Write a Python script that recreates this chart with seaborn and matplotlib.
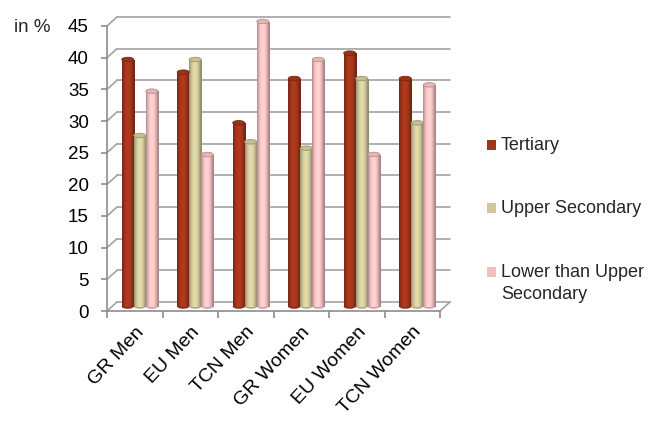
import numpy as np
import matplotlib
matplotlib.use("Agg")
import matplotlib.pyplot as plt
import matplotlib.transforms as mtransforms
from matplotlib.patches import Ellipse, Rectangle
from matplotlib.lines import Line2D
from matplotlib.colors import to_rgb
import pandas as pd
import seaborn as sns

# ---- data -------------------------------------------------------------
groups = ["GR Men", "EU Men", "TCN Men", "GR Women", "EU Women", "TCN Women"]
levels = ["Tertiary", "Upper Secondary", "Lower than Upper\nSecondary"]
tertiary = [39, 37, 29, 36, 40, 36]
upper_secondary = [27, 39, 26, 25, 36, 29]
lower_secondary = [34, 24, 45, 39, 24, 35]
y_ticks = [0, 5, 10, 15, 20, 25, 30, 35, 40, 45]
y_unit = "in %"

colors = ["#A0351B", "#CFC89C", "#F2C0C0"]
grid_color = "#A3A3A3"
axis_color = "#8C8C8C"

df = pd.DataFrame({
    "group": groups * 3,
    "level": [levels[0]] * 6 + [levels[1]] * 6 + [levels[2]] * 6,
    "value": tertiary + upper_secondary + lower_secondary,
})

# ---- figure -----------------------------------------------------------
sns.set_style("white")
plt.rcParams["font.family"] = ["Liberation Sans", "DejaVu Sans"]

W, H = 651, 421
DPI = 100
fig = plt.figure(figsize=(W / DPI, H / DPI), dpi=DPI)

# front plane of the chart box (pixels from top-left)
L, R, T, B = 107, 440, 26, 311
ax = fig.add_axes([L / W, 1 - B / H, (R - L) / W, (B - T) / H])
ax.patch.set_alpha(0)

sns.barplot(data=df, x="group", y="value", hue="level", order=groups,
            hue_order=levels, palette=colors, width=0.65, saturation=1,
            legend=False, linewidth=0, ax=ax)

ax.set_xlim(-0.5, len(groups) - 0.5)
ax.set_ylim(y_ticks[0], y_ticks[-1])

# depth offsets: back wall and the plane in which the bars stand
DX, DY = 10, 9
back = mtransforms.ScaledTranslation(DX / DPI, DY / DPI, fig.dpi_scale_trans)
mid = mtransforms.ScaledTranslation(DX / 2 / DPI, DY / 2 / DPI, fig.dpi_scale_trans)

# back wall gridlines and the diagonal floor/wall connectors
for v in y_ticks:
    ax.add_line(Line2D([0, 1], [v, v], transform=ax.get_yaxis_transform() + back,
                       color=grid_color, lw=1.2, clip_on=False, zorder=0.5))
fig.canvas.draw()
for v in y_ticks:
    x0, y0 = ax.transData.transform((-0.5, v))
    ax.add_line(Line2D([x0, x0 + DX], [y0, y0 + DY],
                       transform=mtransforms.IdentityTransform(),
                       color=grid_color, lw=1.2, clip_on=False, zorder=0.5))
x0, y0 = ax.transData.transform((len(groups) - 0.5, 0))
ax.add_line(Line2D([x0, x0 + DX], [y0, y0 + DY],
                   transform=mtransforms.IdentityTransform(),
                   color=grid_color, lw=1.2, clip_on=False, zorder=0.5))

# cylinder look for each bar: shaded body plus an elliptical top
px_per_unit = (B - T) / (y_ticks[-1] - y_ticks[0])
cap_h = 4.5 / px_per_unit
t = np.linspace(0, 1, 64)
shade = 0.70 + 0.40 * np.sin(np.pi * np.clip(t * 1.1, 0, 1)) ** 0.8
for container, col in zip(ax.containers, colors):
    base = np.array(to_rgb(col))
    body = np.clip(base[None, :] * shade[:, None], 0, 1)
    for bar in container:
        bx, bw, bh = bar.get_x(), bar.get_width(), bar.get_height()
        bar.set_transform(ax.transData + mid)
        bar.set_clip_on(False)
        bar.set_zorder(2)
        im = ax.imshow(body[None, :, :], extent=(bx, bx + bw, 0, bh),
                       aspect="auto", interpolation="bilinear", zorder=2.1)
        im.set_transform(ax.transData + mid)
        im.set_clip_on(False)
        ax.add_patch(Ellipse((bx + bw / 2, 0), bw, cap_h,
                             facecolor=np.clip(base * 0.85, 0, 1), edgecolor="none",
                             transform=ax.transData + mid, clip_on=False, zorder=2.05))
        ax.add_patch(Ellipse((bx + bw / 2, bh), bw, cap_h,
                             facecolor=np.clip(base * 0.95, 0, 1),
                             edgecolor=np.clip(base * 0.75, 0, 1), lw=0.6,
                             transform=ax.transData + mid, clip_on=False, zorder=2.2))

ax.set_xlim(-0.5, len(groups) - 0.5)
ax.set_ylim(y_ticks[0], y_ticks[-1])

# front axes
for side in ("top", "right"):
    ax.spines[side].set_visible(False)
for side in ("left", "bottom"):
    ax.spines[side].set_color(axis_color)
    ax.spines[side].set_linewidth(1.2)

ax.set_yticks(y_ticks)
ax.set_yticklabels([str(v) for v in y_ticks])
ax.set_xticks(range(len(groups)))
ax.set_xticks(np.arange(-0.5, len(groups)), minor=True)
ax.set_xticklabels(groups, rotation=47, ha="right", rotation_mode="anchor")
ax.tick_params(axis="y", left=True, length=4, width=1.2, color=axis_color,
               pad=9, labelsize=13.5, labelcolor="black")
ax.tick_params(axis="x", which="major", bottom=True, length=0, pad=9,
               labelsize=14, labelcolor="black")
ax.tick_params(axis="x", which="minor", bottom=True, length=5, width=1.2,
               color=axis_color)
ax.set_xlabel("")
ax.set_ylabel("")

fig.text(14 / W, 1 - 27 / H, y_unit, ha="left", va="center", fontsize=13.5)

# legend
rows_y = [145, 208, 272]
for label, col, yc in zip(levels, colors, rows_y):
    fig.patches.append(Rectangle(((487) / W, 1 - (yc + 5) / H), 9 / W, 10 / H,
                                 facecolor=col, edgecolor="none",
                                 transform=fig.transFigure, figure=fig))
    fig.text(501 / W, 1 - (yc - 8) / H, label, ha="left", va="top",
             fontsize=13, linespacing=1.35)

fig.savefig("out.png", dpi=DPI)
